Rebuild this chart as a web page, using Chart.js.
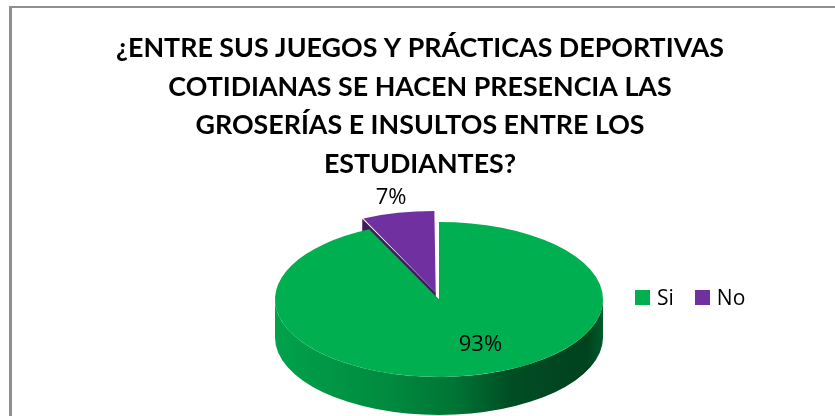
<!DOCTYPE html>
<html>
<head>
<meta charset="utf-8">
<script src="https://cdn.jsdelivr.net/npm/chart.js@4/dist/chart.umd.min.js"></script>
<style>
  html, body { margin: 0; padding: 0; background: #fff; }
  #wrap { position: relative; width: 835px; height: 416px; overflow: hidden; }
  #frame { position: absolute; left: 9px; top: 6px; width: 900px; height: 500px;
           border-left: 3px solid #8f8f8f; border-top: 2px solid #8f8f8f; }
  #chart { position: absolute; left: 0; top: 0; }
  #legend { position: absolute; left: 635px; top: 283px; display: flex; align-items: center;
            font: 21px "Open Sans", sans-serif; color: #000; }
  #legend .item { display: flex; align-items: center; margin-right: 21px; }
  #legend .box { width: 15px; height: 15px; margin-right: 7px; }
</style>
</head>
<body>
<div id="wrap">
  <div id="frame"></div>
  <canvas id="chart" width="835" height="416"></canvas>
  <div id="legend"></div>
</div>
<script>
// ---------- Data ----------
const categories = ["Si", "No"];
const percentages = [93, 7];
const sliceColors = ["#00B050", "#7030A0"];
const faceColors = ["#006A30", "#3D1B5C"];
const titleLines = [
  "¿ENTRE SUS JUEGOS Y PRÁCTICAS DEPORTIVAS",
  "COTIDIANAS SE HACEN PRESENCIA LAS",
  "GROSERÍAS E INSULTOS ENTRE LOS",
  "ESTUDIANTES?"
];

// ---------- 3D pie look: tilt the top, add side walls, labels ----------
const pie3d = {
  id: "pie3d",
  beforeDatasetsDraw(chart, args, opts) {
    const ctx = chart.ctx;
    const arcs = chart.getDatasetMeta(0).data;
    const k = opts.tilt, T = opts.depth, dx = opts.shiftX;

    arcs.forEach((arc, i) => {
      const p = arc.getProps(["x", "y", "startAngle", "endAngle", "outerRadius"], true);
      const off = (arc.options.offset || 0) / 4;
      const mid = (p.startAngle + p.endAngle) / 2;
      const fix = 1 - Math.sin(Math.min(Math.PI, p.endAngle - p.startAngle));
      const R = p.outerRadius + off * fix;
      const ox = p.x + dx + Math.cos(mid) * off;
      const oy = p.y + Math.sin(mid) * off * k;

      // cut faces
      ctx.fillStyle = faceColors[i];
      [p.startAngle, p.endAngle].forEach(a => {
        const ex = ox + Math.cos(a) * R, ey = oy + Math.sin(a) * R * k;
        ctx.beginPath();
        ctx.moveTo(ox, oy);
        ctx.lineTo(ex, ey);
        ctx.lineTo(ex, ey + T);
        ctx.lineTo(ox, oy + T);
        ctx.closePath();
        ctx.fill();
      });

      // front wall
      const a1 = Math.max(p.startAngle, 0), a2 = Math.min(p.endAngle, Math.PI);
      if (a2 > a1) {
        const g = ctx.createLinearGradient(ox - R, 0, ox + R, 0);
        if (i === 0) {
          g.addColorStop(0, "#00A24B");
          g.addColorStop(0.35, "#008A3F");
          g.addColorStop(0.55, "#007434");
          g.addColorStop(0.72, "#004D24");
          g.addColorStop(0.95, "#00421E");
          g.addColorStop(1, "#005A29");
        } else {
          g.addColorStop(0, "#5A2785");
          g.addColorStop(1, "#33164D");
        }
        ctx.fillStyle = g;
        ctx.beginPath();
        ctx.ellipse(ox, oy, R, R * k, 0, a1, a2);
        ctx.ellipse(ox, oy + T, R, R * k, 0, a2, a1, true);
        ctx.closePath();
        ctx.fill();
      }
    });

    const c = arcs[0];
    ctx.save();
    ctx.translate(c.x + dx, c.y);
    ctx.scale(1, k);
    ctx.translate(-c.x, -c.y);
  },
  afterDatasetsDraw(chart, args, opts) {
    const ctx = chart.ctx;
    ctx.restore();

    const arcs = chart.getDatasetMeta(0).data;
    const values = chart.data.datasets[0].data;
    const total = values.reduce((s, v) => s + v, 0);
    const k = opts.tilt, dx = opts.shiftX;

    ctx.save();
    ctx.font = opts.font;
    ctx.fillStyle = "#000";
    ctx.textAlign = "center";
    ctx.textBaseline = "middle";
    arcs.forEach((arc, i) => {
      const p = arc.getProps(["x", "y", "startAngle", "endAngle", "outerRadius"], true);
      const share = values[i] / total;
      const off = (arc.options.offset || 0) / 4;
      const mid = (p.startAngle + p.endAngle) / 2;
      const inside = share > 0.1;
      const r = p.outerRadius * (inside ? opts.insideRatio : opts.outsideRatio) + off;
      const x = p.x + dx + Math.cos(mid) * r + (inside ? opts.insideNudge : 0);
      const y = p.y + Math.sin(mid) * r * k;
      ctx.fillText(Math.round(share * 100) + "%", x, y);
    });
    ctx.restore();
  }
};

// ---------- Chart ----------
const chart = new Chart(document.getElementById("chart"), {
  type: "pie",
  data: {
    labels: categories,
    datasets: [{
      data: percentages,
      backgroundColor: sliceColors,
      borderWidth: 0,
      offset: [0, 60]
    }]
  },
  options: {
    responsive: false,
    animation: false,
    radius: 164,
    layout: { padding: { left: 5, right: 0, top: 0, bottom: 1 } },
    plugins: {
      legend: { display: false },
      tooltip: { enabled: false },
      title: {
        display: true,
        text: titleLines,
        color: "#000",
        font: { family: "Lato", weight: "bold", size: 26.8, lineHeight: 1.444 },
        padding: { top: 29, bottom: 0 }
      },
      pie3d: {
        tilt: 0.4726,
        depth: 38,
        shiftX: 19,
        font: '22px "Open Sans"',
        insideRatio: 0.6,
        insideNudge: 20,
        outsideRatio: 1.25
      }
    }
  },
  plugins: [pie3d]
});

// ---------- Legend ----------
const legend = document.getElementById("legend");
chart.data.labels.forEach((name, i) => {
  const item = document.createElement("div");
  item.className = "item";
  item.innerHTML = `<span class="box" style="background:${sliceColors[i]}"></span><span>${name}</span>`;
  legend.appendChild(item);
});
</script>
</body>
</html>
